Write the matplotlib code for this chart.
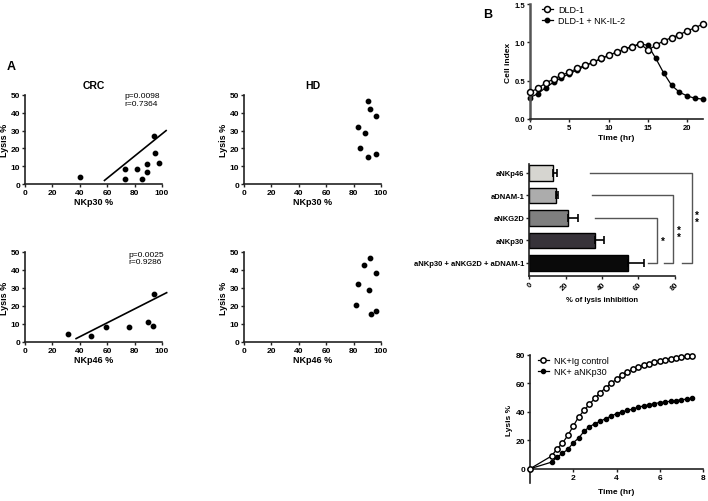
import numpy as np
import matplotlib.pyplot as plt

plt.rcParams['font.family'] = ['Liberation Sans', 'DejaVu Sans']
plt.rcParams['font.weight'] = 'bold'
plt.rcParams['axes.labelweight'] = 'bold'

# ---- A: CRC / HD scatter ----
crc_nkp30_x = [40.5, 73, 73, 82, 85.6, 89.3, 89.3, 94, 95, 98]
crc_nkp30_y = [4.2, 8.4, 3.0, 8.4, 2.6, 11.0, 6.9, 26.7, 17.2, 11.6]
crc_nkp30_fit_x = [58, 103]
crc_nkp30_fit_y = [2.0, 30.0]

hd_nkp30_x = [90.7, 91.7, 96.1, 82.9, 88.3, 84.4, 96.1, 90.7]
hd_nkp30_y = [46.7, 42.4, 38.3, 31.9, 28.7, 20.2, 17.0, 15.4]

crc_nkp46_x = [31.1, 48.5, 59.3, 75.7, 89.5, 93.6, 94.1]
crc_nkp46_y = [4.3, 3.1, 8.3, 8.5, 11.1, 8.7, 26.5]
crc_nkp46_fit_x = [37.3, 103.4]
crc_nkp46_fit_y = [1.9, 27.4]

hd_nkp46_x = [91.7, 87.8, 96.6, 82.9, 91.0, 81.7, 96.6, 92.7]
hd_nkp46_y = [46.7, 42.6, 38.5, 32.0, 28.9, 20.4, 17.2, 15.6]

# ---- B: cell index ----
t_ci = np.arange(0, 23)
dld1 = [0.35, 0.40, 0.47, 0.52, 0.57, 0.61, 0.66, 0.70, 0.74, 0.79, 0.83, 0.87,
        0.91, 0.94, 0.98, 0.90, 0.96, 1.02, 1.06, 1.10, 1.15, 1.19, 1.24]
dld1_nk = [0.28, 0.33, 0.41, 0.48, 0.54, 0.59, 0.64, 0.69, 0.74, 0.78, 0.83, 0.87,
           0.91, 0.95, 0.98, 0.96, 0.79, 0.60, 0.44, 0.35, 0.30, 0.27, 0.26]

# ---- B: blocking bars ----
bar_labels = ['aNKp46', 'aDNAM-1', 'aNKG2D', 'aNKp30', 'aNKp30 + aNKG2D + aDNAM-1']
bar_vals = [13.2, 15.0, 21.5, 36.0, 54.0]
bar_err = [2.3, 1.0, 5.5, 5.0, 9.0]
bar_colors = ['#d6d5d0', '#acacac', '#7f7f7f', '#37333a', '#0a0a0a']

# ---- B: lysis kinetics ----
t_lys = [0, 1, 1.25, 1.5, 1.75, 2, 2.25, 2.5, 2.75, 3, 3.25, 3.5, 3.75, 4, 4.25, 4.5,
         4.75, 5, 5.25, 5.5, 5.75, 6, 6.25, 6.5, 6.75, 7, 7.25, 7.5]
lys_ig = [0, 9, 14, 18, 23.5, 30, 36.5, 41, 45.5, 49.5, 53.5, 57, 60, 63, 66, 68,
          70, 71.5, 73, 74, 75, 76, 76.5, 77.5, 78, 78.5, 79, 79.5]
lys_nkp30 = [0, 4.7, 8, 11, 13.6, 18.3, 21.6, 26.3, 29.6, 31.7, 33.4, 35.3, 37, 38.8,
             40, 41, 42, 43.3, 44.2, 45, 45.8, 46.5, 47, 47.5, 48, 48.5, 49, 49.5]

W, H = 708, 502


def rect(x0, y0, x1, y1):
    return [x0 / W, 1 - y1 / H, (x1 - x0) / W, (y1 - y0) / H]


def style(ax, fs=6):
    for s in ['top', 'right']:
        ax.spines[s].set_visible(False)
    for s in ['left', 'bottom']:
        ax.spines[s].set_linewidth(1.2)
        ax.spines[s].set_color('#222222')
    ax.tick_params(labelsize=fs, length=2.5, width=1, pad=1, color='#222222')
    for lab in ax.get_xticklabels() + ax.get_yticklabels():
        lab.set_fontweight('bold')


fig = plt.figure(figsize=(7.08, 5.02), dpi=100)

panels = [
    (rect(25, 96, 162, 185), crc_nkp30_x, crc_nkp30_y, 'NKp30 %', 'CRC',
     (crc_nkp30_fit_x, crc_nkp30_fit_y), 'p=0.0098\nr=0.7364', 72.3, 51.5),
    (rect(244, 96, 381, 185), hd_nkp30_x, hd_nkp30_y, 'NKp30 %', 'HD', None, None, 0, 0),
    (rect(25, 253, 162, 343), crc_nkp46_x, crc_nkp46_y, 'NKp46 %', None,
     (crc_nkp46_fit_x, crc_nkp46_fit_y), 'p=0.0025\nr=0.9286', 75.2, 50.8),
    (rect(244, 253, 381, 343), hd_nkp46_x, hd_nkp46_y, 'NKp46 %', None, None, None, 0, 0),
]
for r, x, y, xl, title, fit, txt, tx, ty in panels:
    ax = fig.add_axes(r)
    ax.scatter(x, y, s=10, color='black', zorder=3, clip_on=False)
    if fit is not None:
        ax.plot(fit[0], fit[1], color='black', lw=1.2, clip_on=False)
    ax.set_xlim(0, 100)
    ax.set_ylim(0, 50)
    ax.set_xticks([0, 20, 40, 60, 80, 100])
    ax.set_yticks([0, 10, 20, 30, 40, 50])
    ax.set_xlabel(xl, fontsize=6.5, labelpad=1)
    ax.set_ylabel('Lysis %', fontsize=6.5, labelpad=1)
    if title:
        ax.set_title(title, fontsize=7.5, fontweight='bold', pad=5)
    if txt:
        ax.text(tx, ty, txt, fontsize=6, fontweight='normal', ha='left', va='top',
                linespacing=1.1)
    style(ax)

fig.text(7 / W, 1 - 67 / H, 'A', fontsize=9, fontweight='bold', va='center')
fig.text(483 / W, 1 - 15 / H, 'B', fontsize=9, fontweight='bold', va='center')

# ---- cell index ----
ax = fig.add_axes(rect(530, 5, 703, 120))
ax.plot(t_ci, dld1, '-o', color='black', mfc='white', mec='black', ms=4.3, mew=1.1,
        lw=0.9, label='DLD-1', clip_on=False, zorder=3)
ax.plot(t_ci, dld1_nk, '-o', color='black', ms=3.2, lw=0.9, label='DLD-1 + NK-IL-2',
        clip_on=False, zorder=2)
ax.set_xlim(0, 22)
ax.set_ylim(0, 1.5)
ax.set_xticks([0, 5, 10, 15, 20])
ax.set_yticks([0.0, 0.5, 1.0, 1.5])
ax.set_yticklabels(['0.0', '0.5', '1.0', '1.5'])
ax.set_xlabel('Time (hr)', fontsize=6, labelpad=2)
ax.set_ylabel('Cell index', fontsize=6, labelpad=2)
style(ax, 5.5)
ax.spines['left'].set_color('#555555')
ax.spines['left'].set_linewidth(1.8)
leg = ax.legend(loc='upper left', bbox_to_anchor=(0.067, 0.99), frameon=False,
                fontsize=6.5, handlelength=1.3, handletextpad=0.5, labelspacing=0.2,
                borderpad=0, borderaxespad=0)
for t in leg.get_texts():
    t.set_fontweight('normal')

# ---- bars ----
ax = fig.add_axes(rect(529, 165, 675, 277))
ypos = np.arange(len(bar_labels))[::-1]
ax.barh(ypos, bar_vals, height=0.7, color=bar_colors, edgecolor='black', lw=1)
ax.errorbar(bar_vals, ypos, xerr=[np.zeros(len(bar_err)), bar_err], fmt='none',
            ecolor='black', elinewidth=1.2, capsize=3, capthick=1.2)
ax.set_xlim(0, 80)
ax.set_ylim(-0.58, 4.4)
ax.set_yticks(ypos)
ax.set_yticklabels(bar_labels)
ax.set_xticks([0, 20, 40, 60, 80])
ax.set_xlabel('% of lysis inhibition', fontsize=5.5, labelpad=3)
style(ax, 5.5)
for lab in ax.get_xticklabels():
    lab.set_rotation(45)
    lab.set_ha('right')
    lab.set_rotation_mode('anchor')

# significance brackets: (start x, top bar index, vertical x, short arm start, star x, star y, stars)
brackets = [(36, 2, 70.1, 65.2, 73.2, 1.0, '*'),
             (34.5, 1, 78.9, 74.0, 82.0, 1.3, '*\n*'),
             (33.4, 0, 89.3, 83.8, 92.2, 2.0, '*\n*')]
for x0, bi, xv, xs, sx, sy, st in brackets:
    ytop = ypos[bi]
    ax.plot([x0, xv, xv, xs], [ytop, ytop, 0, 0],
            color='#555555', lw=1, clip_on=False)
    ax.text(sx, sy, st, fontsize=7, ha='center', va='center',
            fontweight='bold', linespacing=0.6, clip_on=False)

# ---- lysis kinetics ----
ax = fig.add_axes(rect(530, 356, 703, 484))
ax.plot(t_lys, lys_ig, '-o', color='black', mfc='white', mec='black', ms=3.8, mew=1.1,
        lw=0.9, label='NK+Ig control', clip_on=False, zorder=3)
ax.plot(t_lys, lys_nkp30, '-o', color='black', ms=3.0, lw=0.9, label='NK+ aNKp30',
        clip_on=False, zorder=2)
ax.set_xlim(0, 8)
ax.set_ylim(-10, 80)
ax.spines['bottom'].set_position(('data', 0))
ax.set_xticks([0, 2, 4, 6, 8])
ax.set_xticklabels(['', '2', '4', '6', '8'])
ax.set_yticks([0, 20, 40, 60, 80])
ax.set_xlabel('Time (hr)', fontsize=6, labelpad=0)
ax.xaxis.set_label_coords(0.5, -0.04)
ax.set_ylabel('Lysis %', fontsize=6, labelpad=2)
style(ax, 6)
leg = ax.legend(loc='upper left', bbox_to_anchor=(0.044, 0.99), frameon=False,
                fontsize=6.5, handlelength=1.3, handletextpad=0.5, labelspacing=0.2,
                borderpad=0, borderaxespad=0)
for t in leg.get_texts():
    t.set_fontweight('normal')

fig.savefig('out.png', dpi=100)
